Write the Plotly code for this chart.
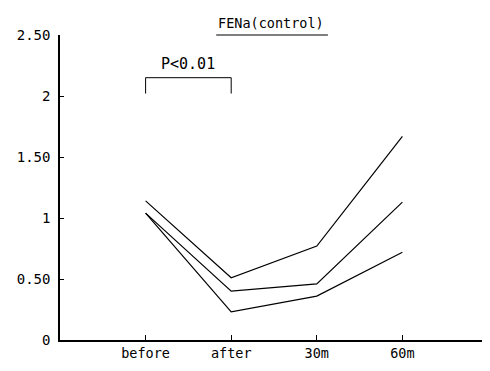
import plotly.graph_objects as go

categories = ["before", "after", "30m", "60m"]
series_high = [1.14, 0.51, 0.77, 1.67]
series_mid = [1.04, 0.40, 0.46, 1.13]
series_low = [1.04, 0.23, 0.36, 0.72]
y_tickvals = [0, 0.5, 1, 1.5, 2, 2.5]
y_ticktext = ["0", "0.50", "1", "1.50", "2", "2.50"]
title_text = "FENa(control)"
pval_text = "P<0.01"

xpos = [1, 2, 3, 4]
yfont = dict(family="DejaVu Sans Mono", size=14, color="black")
xfont = dict(family="DejaVu Sans Mono", size=13.5, color="black")

fig = go.Figure()
for s in (series_high, series_mid, series_low):
    fig.add_trace(go.Scatter(x=xpos, y=s, mode="lines",
                             line=dict(color="black", width=1.2),
                             showlegend=False, hoverinfo="skip"))

# page body has an 8px margin, so the figure is offset by (8, 8)
fig.update_layout(
    width=482, height=355,
    margin=dict(l=52, r=2, t=27, b=23, autoexpand=False),
    paper_bgcolor="white", plot_bgcolor="white",
    font=yfont,
    xaxis=dict(range=[0, 5], tickvals=xpos, ticktext=categories,
               showline=True, linecolor="black", linewidth=1.5,
               ticks="inside", ticklen=5, tickcolor="black",
               showgrid=False, zeroline=False, tickfont=xfont,
               automargin=False),
    yaxis=dict(range=[0, 2.5], tickvals=y_tickvals, ticktext=y_ticktext,
               showline=True, linecolor="black", linewidth=1.5,
               ticks="inside", ticklen=4, tickcolor="black",
               showgrid=False, zeroline=False, tickfont=yfont,
               ticklabelstandoff=5, automargin=False),
)

# significance bracket between 'before' and 'after'
fig.add_shape(type="path", xref="x", yref="y",
              path="M 1,2.02 L 1,2.15 L 2,2.15 L 2,2.02",
              line=dict(color="black", width=1))
fig.add_annotation(x=1.5, y=2.15, xref="x", yref="y", text=pval_text,
                   showarrow=False, yanchor="bottom", yshift=3,
                   font=dict(family="DejaVu Sans Mono", size=15, color="black"))

fig.add_annotation(x=0.493, y=1, xref="paper", yref="paper", yshift=12,
                   text=title_text, showarrow=False, yanchor="middle",
                   font=dict(family="DejaVu Sans Mono", size=13.5, color="black"))
fig.add_shape(type="line", xref="paper", yref="paper",
              x0=0.365, x1=0.626, y0=1.0, y1=1.0,
              line=dict(color="black", width=1.2))

fig.write_html("out.html")
